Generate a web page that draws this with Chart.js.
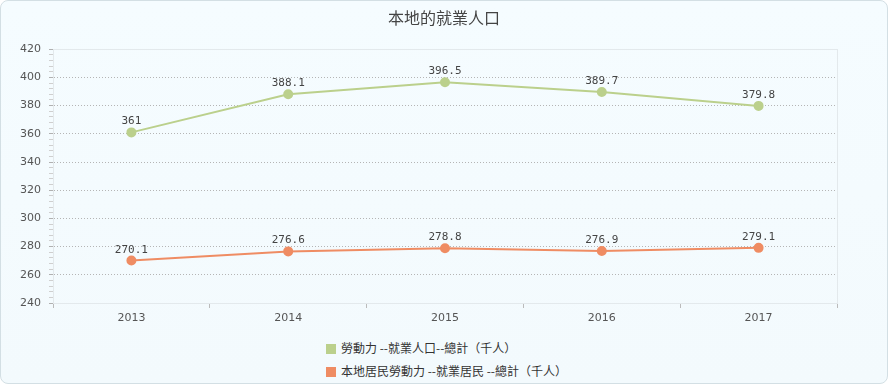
<!DOCTYPE html>
<html>
<head>
<meta charset="utf-8">
<script src="https://cdn.jsdelivr.net/npm/chart.js@4"></script>
<style>
  body { margin: 0; background: #fff; }
  #box {
    position: absolute; left: 0; top: 0; width: 886px; height: 382px;
    border: 1px solid #d3dfe4; border-radius: 8px;
    background: linear-gradient(#f5fcff, #f3fafd);
    overflow: hidden;
  }
  #wrap { position: absolute; left: 0; top: 0; width: 886px; height: 335px; }
  #legend { position: absolute; left: 325px; top: 338px; font: 12px "Noto Sans CJK TC", sans-serif; color: #333; }
  #legend div { height: 23px; line-height: 18px; }
  #legend span.box { display: inline-block; width: 10px; height: 10px; margin-right: 5px; vertical-align: -1px; }
</style>
</head>
<body>
<div id="box">
  <div id="wrap"><canvas id="graf"></canvas></div>
  <div id="legend"></div>
</div>
<script>
// dados do grafico
const anos = ["2013", "2014", "2015", "2016", "2017"];
const empregados = [361, 388.1, 396.5, 389.7, 379.8];
const residentes = [270.1, 276.6, 278.8, 276.9, 279.1];
const rotulos = ["勞動力 --就業人口--總計（千人）", "本地居民勞動力 --就業居民 --總計（千人）"];
const cores = ["#bbd08c", "#ef8c63"];

// escreve o valor em cima de cada ponto
const valores_plugin = {
  id: "valores",
  afterDatasetsDraw(chart) {
    const ctx = chart.ctx;
    ctx.save();
    ctx.font = "11px 'DejaVu Sans Mono', monospace";
    ctx.fillStyle = "#444";
    ctx.textAlign = "center";
    chart.data.datasets.forEach((ds, i) => {
      chart.getDatasetMeta(i).data.forEach((p, j) => {
        ctx.fillText(String(ds.data[j]), p.x, p.y - 8);
      });
    });
    ctx.restore();
  }
};

// moldura clara da area do grafico + titulo centrado na largura toda
const moldura_plugin = {
  id: "moldura",
  afterLayout(chart) {
    const t = chart.titleBlock;
    if (t) { t.left = 0; t.right = chart.width; t.width = chart.width; }
  },
  beforeDatasetsDraw(chart) {
    const a = chart.chartArea, ctx = chart.ctx;
    ctx.save();
    ctx.strokeStyle = "#e3e9ec";
    ctx.lineWidth = 1;
    ctx.strokeRect(Math.round(a.left) + 0.5, Math.round(a.top) + 0.5, Math.round(a.right - a.left), Math.round(a.bottom - a.top));
    ctx.restore();
  }
};

const series = [empregados, residentes];
const myChart = new Chart(document.getElementById("graf"), {
  type: "line",
  data: {
    labels: anos,
    datasets: series.map((d, i) => ({
      label: rotulos[i],
      data: d,
      borderColor: cores[i],
      backgroundColor: cores[i],
      borderWidth: 2,
      pointRadius: 4,
      pointHoverRadius: 4,
      tension: 0
    }))
  },
  options: {
    responsive: true,
    maintainAspectRatio: false,
    animation: false,
    layout: { padding: { left: 0, right: 50, top: 0, bottom: 0 } },
    plugins: {
      legend: { display: false },
      tooltip: { enabled: false },
      title: {
        display: true,
        text: "本地的就業人口",
        color: "#444",
        font: { size: 16, family: "'Noto Sans CJK TC', sans-serif", weight: "normal", lineHeight: 1.2 },
        padding: { top: 7, bottom: 22 }
      }
    },
    scales: {
      x: {
        offset: true,
        grid: { offset: true, drawOnChartArea: false, tickLength: 5, tickColor: "#bbb" },
        border: { color: "#e3e9ec" },
        ticks: { color: "#555", font: { size: 11, family: "'DejaVu Sans', sans-serif" }, padding: 4, maxRotation: 0 },
        afterFit(s) { s.height = 33; }
      },
      y: {
        min: 240,
        max: 420,
        grid: {
          color: c => (c.tick && c.tick.value % 20 === 0 && c.tick.value !== 420 && c.tick.value !== 240) ? "#b5b5b5" : "transparent",
          tickColor: c => (c.tick && c.tick.value % 20 === 0) ? "#b0b0b0" : "#cfcfcf",
          tickLength: 4
        },
        border: { color: "#e3e9ec", dash: [1, 2] },
        ticks: {
          stepSize: 4,
          maxTicksLimit: 100,
          autoSkip: false,
          padding: 8,
          color: "#555",
          font: { size: 11, family: "'DejaVu Sans', sans-serif" },
          callback: v => (v % 20 === 0 ? v : "")
        },
        afterFit(s) { s.width = 52; }
      }
    }
  },
  plugins: [moldura_plugin, valores_plugin]
});

// legenda em html, um item por linha
document.getElementById("legend").innerHTML = rotulos.map((r, i) =>
  '<div><span class="box" style="background:' + cores[i] + '"></span>' + r + '</div>'
).join("");
</script>
</body>
</html>
